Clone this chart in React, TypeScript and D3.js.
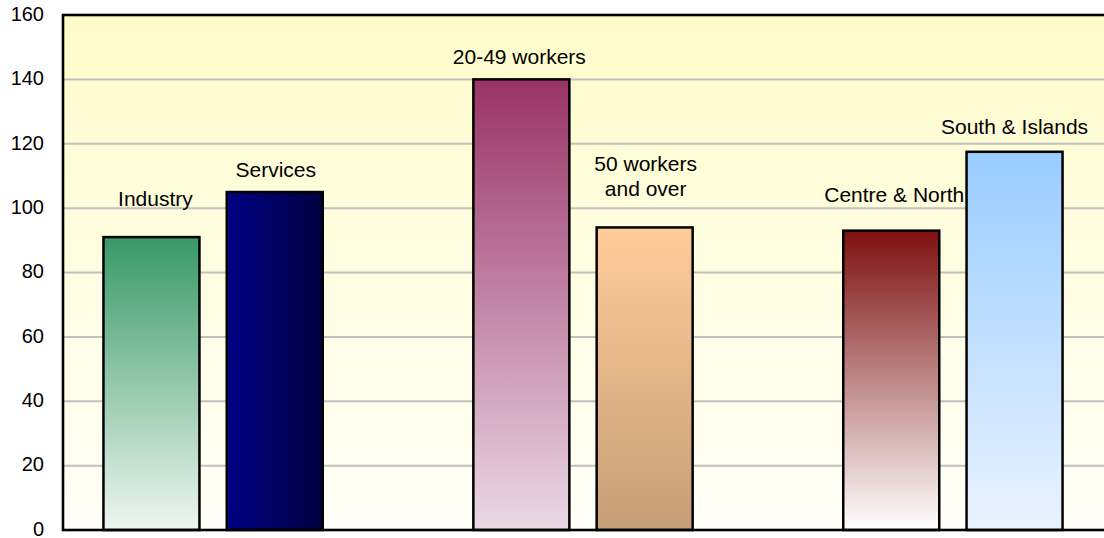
import React from "react";
import * as d3 from "d3";

const categories = ["Industry", "Services", "20-49 workers", "50 workers and over", "Centre & North", "South & Islands"];
const labelLines = [["Industry"], ["Services"], ["20-49 workers"], ["50 workers", "and over"], ["Centre & North"], ["South & Islands"]];
const values = [91, 105, 140, 94, 93, 117.5];
const slots = ["Industry", "Services", "gap1", "20-49 workers", "50 workers and over", "gap2", "Centre & North", "South & Islands"];
const yTicks = [0, 20, 40, 60, 80, 100, 120, 140, 160];
// label placement tweaks (px) – gap above bar top, horizontal shift
const labelGap = [31, 15, 15, 31, 29, 18];
const labelDx = [4, 1, -2, 1, 3, 0];
const fills: { dir: "v" | "h"; from: string; to: string }[] = [
  { dir: "v", from: "#389966", to: "#EFF6F1" },
  { dir: "h", from: "#000084", to: "#000040" },
  { dir: "v", from: "#993366", to: "#EBD9E5" },
  { dir: "v", from: "#FFCC99", to: "#C69E77" },
  { dir: "v", from: "#7E1010", to: "#FFFFFF" },
  { dir: "v", from: "#99CCFF", to: "#EAF3FF" },
];

const W = 1104;
const H = 538;
const left = 63;
const top = 15;
const bottom = 530;
const plotRight = 1112;

export default function App() {
  const x = d3.scaleBand<string>().domain(slots).range([left, 1103]).paddingInner(0.2214).paddingOuter(0.328);
  const y = d3.scaleLinear().domain([0, 160]).range([bottom, top]);
  const font = "Arial, 'Liberation Sans', sans-serif";
  return (
    <svg width={W} height={H} style={{ position: "absolute", left: 0, top: 0 }} fontFamily={font}>
      <defs>
        <linearGradient id="bg" x1="0" y1="0" x2="0" y2="1">
          <stop offset="0" stopColor="#FFFCCB" />
          <stop offset="1" stopColor="#FFFFF8" />
        </linearGradient>
        {fills.map((f, i) => (
          <linearGradient key={i} id={`g${i}`} x1="0" y1="0" x2={f.dir === "h" ? "1" : "0"} y2={f.dir === "v" ? "1" : "0"}>
            <stop offset="0" stopColor={f.from} />
            <stop offset="1" stopColor={f.to} />
          </linearGradient>
        ))}
      </defs>
      <rect x={0} y={0} width={W} height={H} fill="#fff" />
      <rect x={left} y={top} width={plotRight - left} height={bottom - top} fill="url(#bg)" />
      {yTicks.slice(1, -1).map((t) => (
        <line key={t} x1={left} x2={plotRight} y1={y(t)} y2={y(t)} stroke="#C0C0C0" strokeWidth={2} />
      ))}
      {yTicks.map((t) => (
        <text key={t} x={44} y={y(t) - 1} dy="0.34em" textAnchor="end" fontSize={20} fill="#000">
          {t}
        </text>
      ))}
      {categories.map((c, i) => {
        const bx = x(c)!;
        const bw = x.bandwidth();
        const by = y(values[i]);
        return (
          <rect key={c} x={bx} y={by} width={bw} height={bottom - by} fill={`url(#g${i})`} stroke="#000" strokeWidth={2.5} />
        );
      })}
      {categories.map((c, i) => {
        const cx = x(c)! + x.bandwidth() / 2 + labelDx[i];
        const lines = labelLines[i];
        const baseY = y(values[i]) - labelGap[i];
        return (
          <text key={c} x={cx} textAnchor="middle" fontSize={21} fill="#000">
            {lines.map((l, k) => (
              <tspan key={k} x={cx} y={baseY - (lines.length - 1 - k) * 25.6}>
                {l}
              </tspan>
            ))}
          </text>
        );
      })}
      <rect x={left} y={top} width={plotRight - left} height={bottom - top} fill="none" stroke="#000" strokeWidth={2.6} />
    </svg>
  );
}
